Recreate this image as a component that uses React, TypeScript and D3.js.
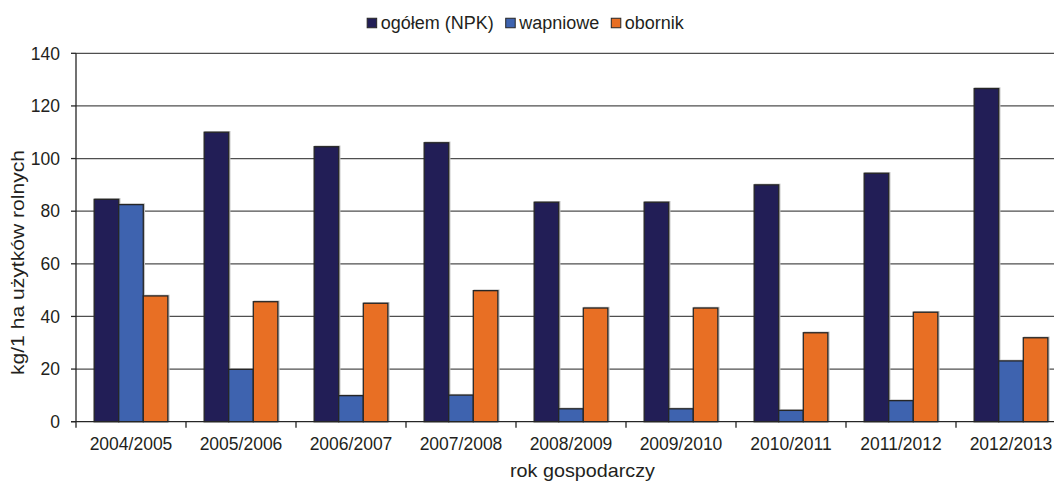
import React, { useEffect, useRef } from "react";
import * as d3 from "d3";

// Fertiliser use per hectare of agricultural land, by farming year
const categories = [
  "2004/2005",
  "2005/2006",
  "2006/2007",
  "2007/2008",
  "2008/2009",
  "2009/2010",
  "2010/2011",
  "2011/2012",
  "2012/2013",
];
const npk = [84.5, 110.0, 104.5, 106.0, 83.4, 83.4, 90.0, 94.4, 126.6];
const wapniowe = [82.5, 19.9, 9.9, 10.1, 4.9, 4.9, 4.3, 8.0, 23.1];
const obornik = [47.8, 45.6, 45.0, 49.8, 43.2, 43.2, 33.8, 41.6, 31.9];

const seriesNames = ["ogółem (NPK)", "wapniowe", "obornik"];
const seriesColors = ["#221e56", "#3e63af", "#e86f24"];
const yTicks = [0, 20, 40, 60, 80, 100, 120, 140];

const W = 1054;
const H = 484;
const FONT = "'Liberation Sans', Arial, Helvetica, sans-serif";
const TEXT = "#231f20";

export default function App() {
  const ref = useRef<SVGSVGElement | null>(null);

  useEffect(() => {
    const svg = d3.select(ref.current);
    svg.selectAll("*").remove();

    const left = 76;
    const right = 1066;
    const top = 53.3;
    const bottom = 421.7;

    const x = d3.scaleBand<string>().domain(categories).range([left, right]).padding(0);
    const inner = d3
      .scaleBand<number>()
      .domain([0, 1, 2])
      .range([x.bandwidth() * 0.165, x.bandwidth() * 0.835])
      .padding(0);
    const y = d3.scaleLinear().domain([0, 140]).range([bottom, top]);

    const series = [npk, wapniowe, obornik];

    // horizontal gridlines
    svg
      .append("g")
      .selectAll("line")
      .data(yTicks.filter((t) => t > 0))
      .join("line")
      .attr("x1", left)
      .attr("x2", right)
      .attr("y1", (d) => y(d))
      .attr("y2", (d) => y(d))
      .attr("stroke", "#4f4f4f")
      .attr("stroke-width", 1.3);

    // bars
    const groups = svg
      .append("g")
      .selectAll("g")
      .data(categories)
      .join("g")
      .attr("transform", (c) => `translate(${x(c)},0)`);

    groups
      .selectAll("rect.shadow")
      .data((_, i) => series.map((s, k) => ({ k, v: s[i] })))
      .join("rect")
      .attr("class", "shadow")
      .attr("x", (d) => inner(d.k)! + 1)
      .attr("y", (d) => y(d.v) - 0.5)
      .attr("width", inner.bandwidth())
      .attr("height", (d) => bottom - y(d.v))
      .attr("fill", "none")
      .attr("stroke", "#c4c4c4")
      .attr("stroke-width", 1.5);

    groups
      .selectAll("rect.bar")
      .data((_, i) => series.map((s, k) => ({ k, v: s[i] })))
      .join("rect")
      .attr("class", "bar")
      .attr("x", (d) => inner(d.k)!)
      .attr("y", (d) => y(d.v))
      .attr("width", inner.bandwidth())
      .attr("height", (d) => bottom - y(d.v))
      .attr("fill", (d) => seriesColors[d.k])
      .attr("stroke", "#262626")
      .attr("stroke-width", 1.3);

    // axes
    const axisColor = "#262626";
    svg
      .append("line")
      .attr("x1", left)
      .attr("x2", left)
      .attr("y1", top)
      .attr("y2", bottom)
      .attr("stroke", axisColor)
      .attr("stroke-width", 1.3);
    svg
      .append("line")
      .attr("x1", left - 5)
      .attr("x2", right)
      .attr("y1", bottom)
      .attr("y2", bottom)
      .attr("stroke", axisColor)
      .attr("stroke-width", 1.3);

    // y ticks and labels
    svg
      .append("g")
      .selectAll("line")
      .data(yTicks)
      .join("line")
      .attr("x1", left - 5)
      .attr("x2", left)
      .attr("y1", (d) => y(d))
      .attr("y2", (d) => y(d))
      .attr("stroke", axisColor)
      .attr("stroke-width", 1.3);
    svg
      .append("g")
      .selectAll("text")
      .data(yTicks)
      .join("text")
      .attr("x", 60)
      .attr("y", (d) => y(d) + 6.3)
      .attr("text-anchor", "end")
      .attr("font-family", FONT)
      .attr("font-size", 17.5)
      .attr("fill", TEXT)
      .text((d) => d);

    // x ticks at category boundaries
    const boundaries = categories.map((c) => x(c)!).concat([right]);
    svg
      .append("g")
      .selectAll("line")
      .data(boundaries)
      .join("line")
      .attr("x1", (d) => d)
      .attr("x2", (d) => d)
      .attr("y1", bottom)
      .attr("y2", bottom + 6)
      .attr("stroke", axisColor)
      .attr("stroke-width", 1.3);

    svg
      .append("g")
      .selectAll("text")
      .data(categories)
      .join("text")
      .attr("x", (c) => x(c)! + x.bandwidth() / 2)
      .attr("y", 449.5)
      .attr("text-anchor", "middle")
      .attr("font-family", FONT)
      .attr("font-size", 17.5)
      .attr("fill", TEXT)
      .text((c) => c);

    // axis titles
    svg
      .append("text")
      .attr("x", 582.5 - 72.5)
      .attr("y", 476.5)
      .attr("font-family", FONT)
      .attr("font-size", 19)
      .attr("textLength", 145)
      .attr("lengthAdjust", "spacingAndGlyphs")
      .attr("fill", TEXT)
      .text("rok gospodarczy");

    svg
      .append("text")
      .attr("transform", `translate(23.5,${262.5 + 112.5}) rotate(-90)`)
      .attr("font-family", FONT)
      .attr("font-size", 18.5)
      .attr("textLength", 225)
      .attr("lengthAdjust", "spacingAndGlyphs")
      .attr("fill", TEXT)
      .text("kg/1 ha użytków rolnych");

    // legend
    const legend = svg.append("g");
    const sq = 9.5;
    const gapText = 4;
    const gapItem = 12;
    let cursor = 0;
    const items = seriesNames.map((name, k) => {
      const g = legend.append("g");
      g.append("rect")
        .attr("x", 0)
        .attr("y", -sq / 2)
        .attr("width", sq)
        .attr("height", sq)
        .attr("fill", seriesColors[k])
        .attr("stroke", "#262626")
        .attr("stroke-width", 1);
      const t = g
        .append("text")
        .attr("x", sq + gapText)
        .attr("y", 6.2)
        .attr("font-family", FONT)
        .attr("font-size", 18)
        .attr("fill", TEXT)
        .text(name);
      const w = (t.node() as SVGTextElement).getComputedTextLength();
      g.attr("transform", `translate(${cursor},0)`);
      cursor += sq + gapText + w + gapItem;
      return g;
    });
    const total = cursor - gapItem;
    legend.attr("transform", `translate(${525.5 - total / 2},23)`);
    void items;
  }, []);

  return (
    <svg
      ref={ref}
      width={W}
      height={H}
      style={{ position: "absolute", left: 0, top: 0, background: "#fff" }}
    />
  );
}
